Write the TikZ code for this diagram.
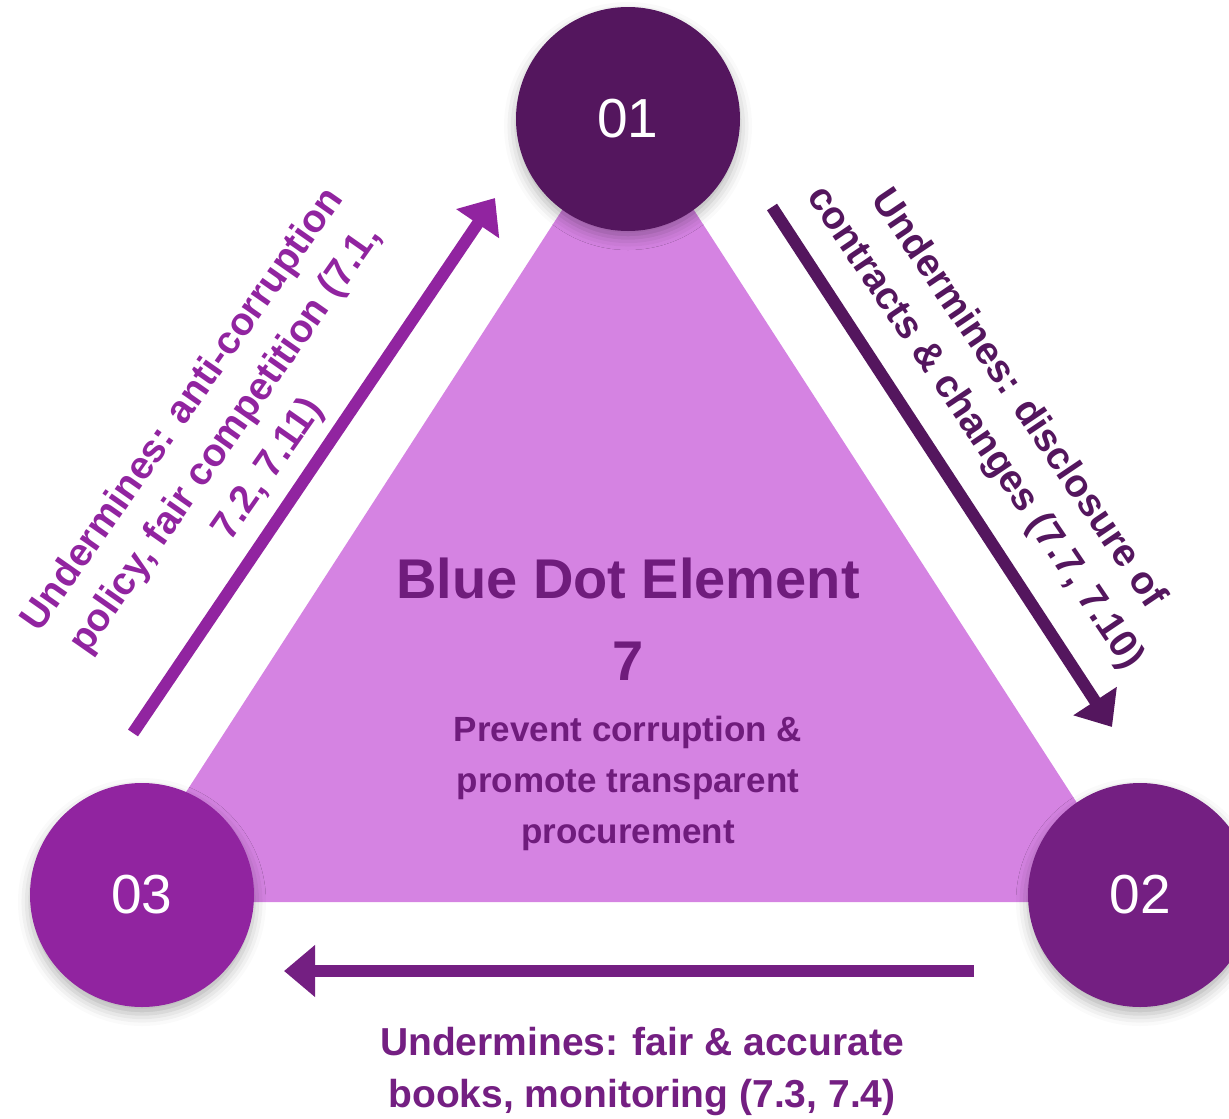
\documentclass[tikz,border=0pt]{standalone}
\usepackage{fontspec}
\setmainfont{Liberation Sans}
\usetikzlibrary{arrows.meta,shadows.blur}
\definecolor{cOne}{HTML}{54165E}
\definecolor{cTwo}{HTML}{741F82}
\definecolor{cThree}{HTML}{9124A0}
\definecolor{triFill}{HTML}{D583E2}
\definecolor{midText}{HTML}{6F1C7C}
\begin{document}
\begin{tikzpicture}[x=1pt,y=-1pt,
  numcircle/.style={circle, minimum size=224pt, inner sep=0pt, text=white,
    font=\fontsize{55}{60}\selectfont,
    blur shadow={shadow xshift=0pt, shadow yshift=-7pt, shadow blur radius=12pt, shadow opacity=30}},
  flow/.style={line width=12pt, -{Triangle[length=31pt,width=50pt]}},
  edgelabel/.style={align=center, font=\bfseries\fontsize{39}{52}\selectfont},
  midtitle/.style={text=midText, font=\bfseries\fontsize{56}{60}\selectfont, anchor=base},
  midsub/.style={text=midText, align=center, font=\bfseries\fontsize{35}{51}\selectfont, anchor=base},
]
\path[use as bounding box] (0,0) rectangle (1229,1119);
\fill[triFill] (628,108) -- (115,902) -- (1141,902) -- cycle;
\node[numcircle, fill=cOne] (c1) at (628,119) {01};
\node[numcircle, fill=cTwo] (c2) at (1140,895) {02};
\node[numcircle, fill=cThree] (c3) at (142,895) {03};

\node[midtitle] (title) at (628,598) {Blue Dot Element};
\node[midtitle] (num) at (628,680) {7};
% base anchor of a multi-line node lies on its last line
\node[midsub] (sub) at (628,843) {Prevent corruption \&\\promote transparent\\procurement};

\coordinate (l0) at (133,733); \coordinate (l1) at (495,198);
\coordinate (r0) at (772,207); \coordinate (r1) at (1112,727);
\coordinate (b0) at (974,971); \coordinate (b1) at (284,971);
\draw[flow, cThree] (l0) -- (l1);
\draw[flow, cOne] (r0) -- (r1);
\draw[flow, cTwo] (b0) -- (b1);

\node[edgelabel, text=cThree, rotate=55] (lbl3) at (226,440) {Undermines: anti-corruption\\policy, fair competition (7.1,\\7.2, 7.11)};
\node[edgelabel, text=cOne, rotate=-56] (lbl1) at (996,414) {Undermines: disclosure of\\contracts \& changes (7.7, 7.10)};
\node[edgelabel, text=cTwo, anchor=base] (lbl2) at (642,1107) {Undermines: fair \& accurate\\books, monitoring (7.3, 7.4)};
\end{tikzpicture}
\end{document}
